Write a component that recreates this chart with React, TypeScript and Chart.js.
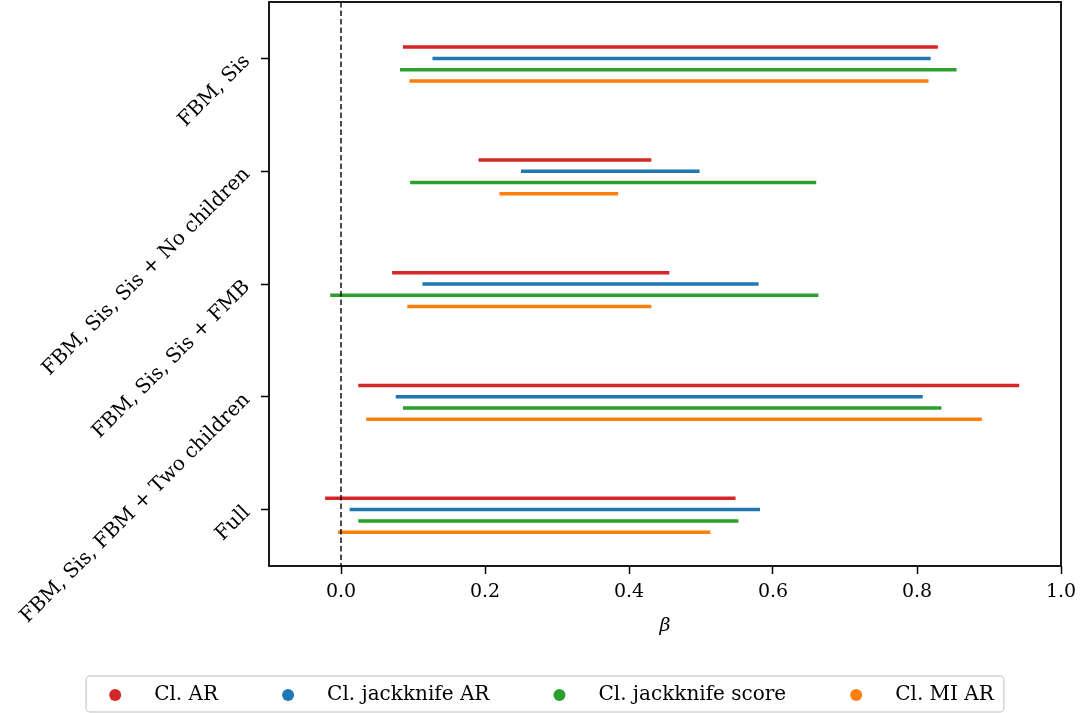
import React, { useEffect, useRef } from 'react';
import { Chart, registerables } from 'chart.js';

Chart.register(...registerables);

const categories = [
  'FBM, Sis',
  'FBM, Sis, Sis + No children',
  'FBM, Sis, Sis + FMB',
  'FBM, Sis, FBM + Two children',
  'Full',
];
const seriesNames = ['Cl. AR', 'Cl. jackknife AR', 'Cl. jackknife score', 'Cl. MI AR'];
const seriesColors = ['#d62728', '#1f77b4', '#2ca02c', '#ff7f0e'];
const seriesOffsets = [-0.1, 0, 0.1, 0.2];

const clArLow = [0.086, 0.191, 0.071, 0.024, -0.022];
const clArHigh = [0.829, 0.431, 0.456, 0.942, 0.548];
const clJackArLow = [0.127, 0.25, 0.113, 0.076, 0.012];
const clJackArHigh = [0.819, 0.498, 0.58, 0.808, 0.582];
const clJackScoreLow = [0.082, 0.096, -0.015, 0.086, 0.024];
const clJackScoreHigh = [0.855, 0.66, 0.663, 0.834, 0.552];
const clMiArLow = [0.095, 0.22, 0.092, 0.035, -0.004];
const clMiArHigh = [0.816, 0.385, 0.431, 0.89, 0.513];

const xTicks = [0, 0.2, 0.4, 0.6, 0.8, 1.0];
const xMin = -0.1;
const xMax = 1.0;
const refLine = 0;

const lows = [clArLow, clJackArLow, clJackScoreLow, clMiArLow];
const highs = [clArHigh, clJackArHigh, clJackScoreHigh, clMiArHigh];

const FONT = '"DejaVu Serif"';
const FS = 19;
const FS_LABEL = 20;

const frameAndLegend = {
  id: 'frameAndLegend',
  afterDraw(chart: any) {
    const ctx = chart.ctx;
    const a = chart.chartArea;
    ctx.save();
    ctx.strokeStyle = '#000';
    ctx.lineWidth = 1.8;
    ctx.strokeRect(a.left, a.top, a.right - a.left, a.bottom - a.top);

    ctx.font = `${FS_LABEL}px ${FONT}`;
    const dotGap = 39;
    const itemGap = 70;
    const padL = 29;
    const padR = 10;
    const widths = seriesNames.map((n) => ctx.measureText(n).width);
    const total = widths.reduce((s, w) => s + dotGap + w, 0) + itemGap * (seriesNames.length - 1);
    const boxW = padL + total + padR;
    const cx = 545;
    const left = cx - boxW / 2;
    const top = 676;
    const h = 36;
    ctx.beginPath();
    ctx.roundRect(left, top, boxW, h, 4);
    ctx.fillStyle = 'rgba(255,255,255,0.8)';
    ctx.fill();
    ctx.strokeStyle = '#d4d4d4';
    ctx.lineWidth = 1.5;
    ctx.stroke();
    const cy = top + h / 2 + 1;
    let x = left + padL;
    ctx.textBaseline = 'middle';
    ctx.textAlign = 'left';
    seriesNames.forEach((n, i) => {
      ctx.beginPath();
      ctx.arc(x, cy, 6, 0, Math.PI * 2);
      ctx.fillStyle = seriesColors[i];
      ctx.fill();
      ctx.fillStyle = '#000';
      ctx.fillText(n, x + dotGap, cy);
      x += dotGap + widths[i] + itemGap;
    });
    ctx.restore();
  },
};

export default function App() {
  const ref = useRef<HTMLCanvasElement | null>(null);
  useEffect(() => {
    if (!ref.current) return;
    const datasets: any[] = [
      {
        label: 'zero',
        data: [
          { x: refLine, y: -0.5 },
          { x: refLine, y: categories.length - 0.5 },
        ],
        showLine: true,
        borderColor: '#000',
        borderWidth: 1.4,
        borderDash: [5.5, 3],
        pointRadius: 0,
        order: -1,
      },
    ];
    seriesNames.forEach((name, i) => {
      const data: any[] = [];
      categories.forEach((_, c) => {
        data.push({ x: lows[i][c], y: c + seriesOffsets[i] });
        data.push({ x: highs[i][c], y: c + seriesOffsets[i] });
        data.push({ x: null, y: null });
      });
      datasets.push({
        label: name,
        data,
        showLine: true,
        spanGaps: false,
        borderColor: seriesColors[i],
        backgroundColor: seriesColors[i],
        borderWidth: 3.5,
        pointRadius: 0,
        borderCapStyle: 'butt',
      });
    });

    const tickFont = { family: FONT, size: FS };
    const chart = new Chart(ref.current, {
      type: 'scatter',
      data: { datasets },
      plugins: [frameAndLegend],
      options: {
        animation: false,
        responsive: false,
        layout: { padding: { left: 0, top: 2, right: 21, bottom: 60 } },
        plugins: { legend: { display: false }, tooltip: { enabled: false } },
        scales: {
          x: {
            type: 'linear',
            min: xMin,
            max: xMax,
            afterBuildTicks: (s: any) => {
              s.ticks = xTicks.map((v) => ({ value: v }));
            },
            afterFit: (s: any) => {
              s.height = 87;
              s.paddingLeft = 0;
              s.paddingRight = 0;
            },
            ticks: {
              callback: (v: any) => Number(v).toFixed(1),
              font: tickFont,
              color: '#000',
              padding: 7,
              maxRotation: 0,
              autoSkip: false,
            },
            grid: {
              drawOnChartArea: false,
              drawTicks: true,
              tickLength: 8,
              tickColor: '#000',
              tickWidth: 1.5,
            },
            border: { display: false },
            title: {
              display: true,
              text: 'β',
              color: '#000',
              font: { family: FONT, size: FS, style: 'italic' },
              padding: { top: 0, bottom: 16 },
            },
          },
          y: {
            type: 'linear',
            min: -0.5,
            max: categories.length - 0.5,
            reverse: true,
            afterBuildTicks: (s: any) => {
              s.ticks = categories.map((_, i) => ({ value: i }));
            },
            afterFit: (s: any) => {
              s.width = 269;
              s.paddingTop = 0;
              s.paddingBottom = 0;
            },
            ticks: {
              callback: (v: any) => categories[Math.round(Number(v))],
              font: { family: FONT, size: FS_LABEL },
              color: '#000',
              padding: 14,
              minRotation: 45,
              maxRotation: 45,
              autoSkip: false,
            },
            grid: {
              drawOnChartArea: false,
              drawTicks: true,
              tickLength: 8,
              tickColor: '#000',
              tickWidth: 1.5,
            },
            border: { display: false },
          },
        },
      } as any,
    });
    return () => chart.destroy();
  }, []);
  return (
    <div style={{ position: 'fixed', left: 0, top: 0, width: 1082, height: 713, background: '#fff' }}>
      <canvas ref={ref} width={1082} height={713} style={{ display: 'block' }} />
    </div>
  );
}
